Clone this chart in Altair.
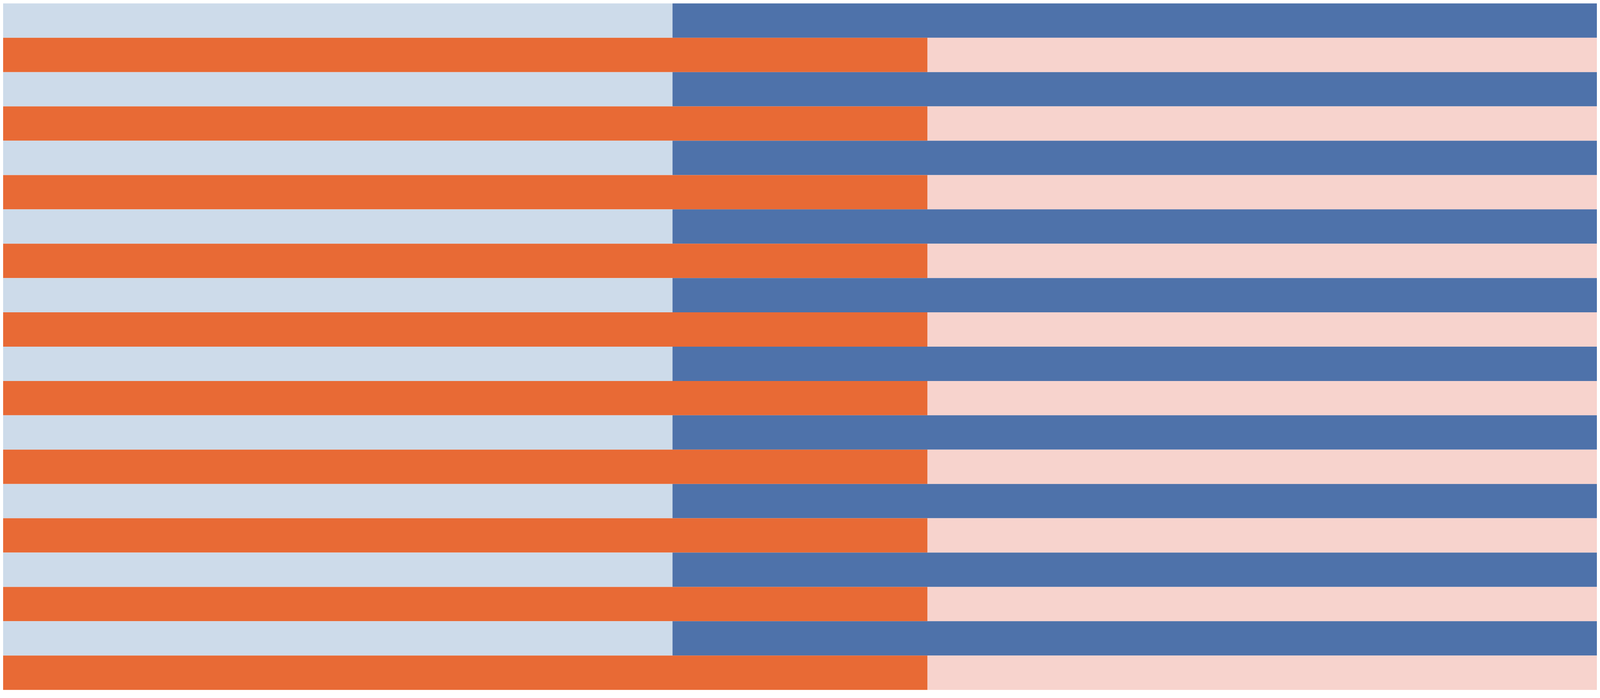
import altair as alt
import pandas as pd

# 20 rows, alternating two series; each row split into two stacked segments
rows = [f"R{i+1:02d}" for i in range(20)]
blue_light = [42] * 10   # left segment on blue rows
blue_dark = [58] * 10    # right segment on blue rows
orange = [58] * 10       # left segment on orange rows
pink = [42] * 10         # right segment on orange rows

recs = []
for i, r in enumerate(rows):
    k = i // 2
    if i % 2 == 0:
        segs = [("blue_light", blue_light[k]), ("blue_dark", blue_dark[k])]
    else:
        segs = [("orange", orange[k]), ("pink", pink[k])]
    start = 0
    for name, v in segs:
        recs.append({"row": r, "idx": i, "idx1": i + 1, "seg": name,
                     "start": start, "end": start + v})
        start += v
df = pd.DataFrame(recs)

chart = alt.Chart(df).mark_rect(strokeWidth=0).encode(
    y=alt.Y("idx:Q", axis=None,
            scale=alt.Scale(domain=[0, 20], nice=False, zero=False, reverse=True)),
    y2="idx1:Q",
    x=alt.X("start:Q", axis=None,
            scale=alt.Scale(domain=[0, 100], nice=False, zero=True)),
    x2="end:Q",
    color=alt.Color("seg:N", legend=None,
                    scale=alt.Scale(domain=["blue_light", "blue_dark", "orange", "pink"],
                                    range=["#cddbea", "#4e72aa", "#e86a35", "#f7d3cd"])),
).properties(width=4084, height=1760, padding=0,
             autosize=alt.AutoSizeParams(type="fit", contains="padding")
).configure_view(stroke=None)

chart.save("out.html", embed_options={"renderer": "svg", "actions": False})
